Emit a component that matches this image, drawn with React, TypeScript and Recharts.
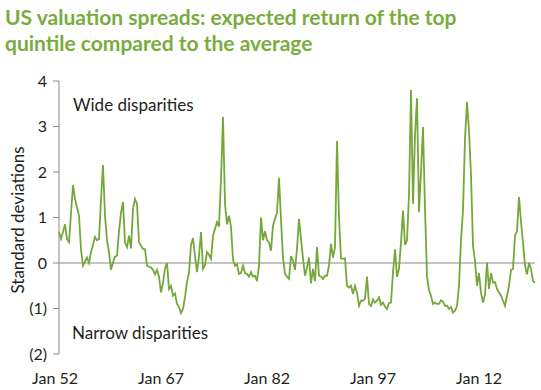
import { LineChart, Line, XAxis, YAxis, ReferenceLine } from 'recharts';

// valuation spread, std devs, one reading every ~3.4 months from Jan 52
const spread = [
  0.68, 0.53, 0.68, 0.85, 0.53, 0.46, 1.1, 1.71, 1.41, 1.22,
  1.04, 0.3, -0.06, 0.03, 0.12, 0.0, 0.24, 0.4, 0.57, 0.5,
  0.53, 1.4, 2.15, 1.04, 0.5, 0.24, -0.15, 0.01, 0.14, 0.16,
  0.7, 1.1, 1.34, 0.45, 0.35, 0.6, 0.32, 1.19, 1.41, 1.3,
  0.46, 0.38, 0.31, 0.3, -0.06, -0.08, -0.1, -0.15, -0.25, -0.15,
  -0.3, -0.65, -0.43, -0.12, 0.0, -0.57, -0.5, -0.72, -0.67, -0.9,
  -0.97, -1.1, -1.01, -0.75, -0.42, -0.22, 0.4, 0.55, 0.15, -0.2,
  0.15, 0.68, -0.13, -0.05, 0.24, 0.18, 0.09, 0.6, 0.75, 0.9,
  0.8, 1.85, 3.21, 1.3, 0.85, 1.04, 0.8, 0.07, -0.06, -0.03,
  -0.24, -0.22, -0.06, -0.22, -0.24, -0.3, -0.2, -0.3, -0.28, -0.4,
  -0.06, 1.0, 0.5, 0.7, 0.5, 0.45, 0.27, 0.82, 0.97, 1.1,
  1.87, 0.95, 0.12, -0.24, -0.3, -0.35, 0.15, 0.05, -0.15, 0.31,
  0.97, 0.53, 0.1, -0.28, -0.1, 0.12, -0.45, -0.13, -0.4, 0.35,
  -0.28, -0.3, -0.35, -0.28, -0.28, -0.05, 0.42, 0.12, 0.35, 2.68,
  1.0, 0.1, 0.09, 0.1, -0.5, -0.54, -0.5, -0.68, -0.5, -0.65,
  -0.94, -0.83, -0.83, -0.79, -0.3, -0.9, -0.94, -0.8, -0.87, -0.83,
  -0.76, -0.92, -0.87, -0.96, -1.01, -0.88, -0.87, -0.2, 0.3, -0.3,
  -0.13, 0.45, 1.15, 0.4, 0.5, 1.5, 3.8, 1.3, 2.81, 3.62,
  1.12, 2.0, 2.99, 1.2, -0.3, -0.6, -0.72, -0.9, -0.87, -0.9,
  -0.9, -0.82, -0.85, -0.94, -0.94, -1.01, -0.97, -1.09, -1.05, -0.94,
  -0.5, 0.5, 1.15, 2.74, 3.54, 2.9, 1.93, 0.38, 0.05, -0.5,
  -0.22, -0.65, -0.87, -0.7, 0.01, -0.57, -0.22, -0.43, -0.42, -0.57,
  -0.65, -0.72, -0.83, -0.94, -0.72, -0.5, -0.15, -0.13, 0.6, 0.7,
  1.45, 0.9, 0.45, -0.05, -0.25, 0.0, -0.13, -0.4, -0.43,
];

const startYear = 1952;
const stepYears = 15 / 53;
const tickYears = [1952, 1967, 1982, 1997, 2012];
const tickLabels = ['Jan 52', 'Jan 67', 'Jan 82', 'Jan 97', 'Jan 12'];
const yTicks = [-2, -1, 0, 1, 2, 3, 4];

const data = spread.map((v, i) => ({ t: startYear + i * stepYears, v }));

const GREEN = '#74a83a';
const TEXT = '#231f20';
const FONT = 'Lato, "Noto Sans", sans-serif';

function fmtY(v: number) {
  return v < 0 ? `(${Math.abs(v)})` : `${v}`;
}

function XTick(props: any) {
  const { x, y, payload } = props;
  const idx = tickYears.indexOf(payload.value);
  return (
    <text x={x - 4} y={y + 22} textAnchor="middle" fontSize={16} fill={TEXT} fontFamily={FONT}>
      {tickLabels[idx]}
    </text>
  );
}

export default function App() {
  return (
    <div style={{ position: 'absolute', left: 0, top: 0, width: 541, height: 390, background: '#fff', fontFamily: FONT }}>
      <div
        style={{
          position: 'absolute',
          left: 5,
          top: 4,
          fontSize: 21,
          lineHeight: '26px',
          fontWeight: 700,
          color: '#78ad3e',
          whiteSpace: 'nowrap',
        }}
      >
        US valuation spreads: expected return of the top
        <br />
        quintile compared to the average
      </div>
      <LineChart
        width={541}
        height={390}
        data={data}
        margin={{ top: 81, right: 6, bottom: 6, left: 0 }}
        style={{ position: 'absolute', left: 0, top: 0 }}
      >
        <XAxis
          dataKey="t"
          type="number"
          domain={[startYear, startYear + (spread.length - 1) * stepYears]}
          ticks={tickYears}
          axisLine={false}
          tickLine={false}
          height={30}
          tick={<XTick />}
        />
        <YAxis
          domain={[-2, 4]}
          ticks={yTicks}
          width={59}
          tickFormatter={fmtY}
          axisLine={{ stroke: '#8a8a8a' }}
          tickLine={{ stroke: '#8a8a8a' }}
          tickSize={6}
          tickMargin={6}
          tick={{ fontSize: 16, fill: TEXT, fontFamily: FONT }}
        />
        <ReferenceLine y={0} stroke="#8a8a8a" strokeWidth={1} />
        <Line
          type="linear"
          dataKey="v"
          stroke={GREEN}
          strokeWidth={1.8}
          dot={false}
          isAnimationActive={false}
        />
      </LineChart>
      <div style={{ position: 'absolute', left: 73, top: 96, fontSize: 17, lineHeight: '17px', color: TEXT }}>
        Wide disparities
      </div>
      <div style={{ position: 'absolute', left: 72, top: 324, fontSize: 17, lineHeight: '17px', color: TEXT }}>
        Narrow disparities
      </div>
      <div
        style={{
          position: 'absolute',
          left: 17,
          top: 220,
          fontSize: 17,
          lineHeight: '17px',
          color: TEXT,
          whiteSpace: 'nowrap',
          transform: 'translate(-50%, -50%) rotate(-90deg)',
        }}
      >
        Standard deviations
      </div>
    </div>
  );
}
